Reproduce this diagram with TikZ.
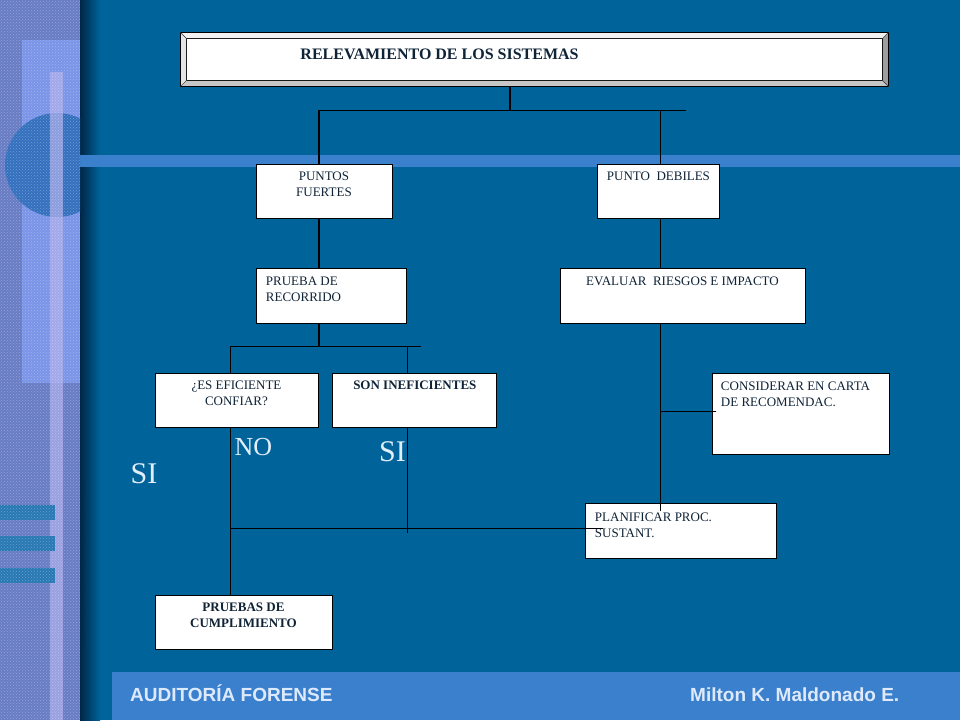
\documentclass[tikz,border=0pt]{standalone}
\usepackage{fontspec}
\setmainfont{Liberation Serif}
\setsansfont{Liberation Sans}
\usetikzlibrary{positioning,calc,patterns}

\definecolor{slidebg}{RGB}{0,99,153}
\definecolor{bandblue}{RGB}{58,128,204}
\definecolor{stripblue}{RGB}{104,124,196}
\definecolor{striplight}{RGB}{122,148,232}
\definecolor{circblue}{RGB}{52,112,190}
\definecolor{barlav}{RGB}{178,178,236}
\definecolor{tealbar}{RGB}{40,120,180}
\definecolor{shadowblue}{RGB}{0,38,72}
\definecolor{boxtext}{RGB}{15,35,55}
\definecolor{labelwhite}{RGB}{226,238,250}
\definecolor{foottext}{RGB}{222,234,252}

% text block inside a box: width, height, top gap, content
\newcommand{\boxtxt}[4]{\parbox[c][#2pt][t]{#1pt}{\vspace*{#3pt}#4}}
\newcommand{\lefttxt}[1]{\raggedright\leftskip=#1pt}

\begin{document}
\begin{tikzpicture}[x=1pt, y=-1pt,
    box/.style={draw=black, fill=white, line width=0.9pt, inner sep=0pt,
      text=boxtext, font=\fontsize{13}{16}\selectfont},
    conn/.style={draw=black, line width=1.1pt},
    yesno/.style={text=labelwhite, inner sep=0pt},
    foot/.style={text=foottext, inner sep=0pt,
      font=\sffamily\bfseries\fontsize{19}{22}\selectfont}]
    \useasboundingbox (0,0) rectangle (960,720);

    % slide background
    \fill[slidebg] (80,0) rectangle (960,720);
    \shade[left color=shadowblue, right color=slidebg] (80,0) rectangle (100,720);
    \fill[bandblue] (80,155) rectangle (960,167);
    \fill[bandblue] (112,672) rectangle (960,720);

    % textured strip on the left
    \begin{scope}
      \clip (0,0) rectangle (80,720);
      \fill[stripblue] (0,0) rectangle (80,720);
      \fill[striplight] (22,40) rectangle (80,383);
      \fill[circblue] (57,165) circle[radius=52pt];
      \fill[barlav, opacity=0.7] (50,72) rectangle (63,720);
      \foreach \y in {505,536,568}
        \fill[tealbar] (0,\y) rectangle (55,\y+15);
      \fill[pattern=crosshatch dots, pattern color=white, opacity=0.3] (0,0) rectangle (80,720);
    \end{scope}

    % title with bevel
    \node[box, anchor=north west] (title) at (186,38)
      {\boxtxt{696}{42}{10}{\bfseries\fontsize{16}{19}\selectfont\hspace*{114pt}RELEVAMIENTO DE LOS SISTEMAS}};
    \path (title.north west) ++(-6,-6) coordinate (tnw);
    \path (title.north east) ++(6,-6) coordinate (tne);
    \path (title.south east) ++(6,6) coordinate (tse);
    \path (title.south west) ++(-6,6) coordinate (tsw);
    \fill[black!5] (tnw) -- (tne) -- (title.north east) -- (title.north west) -- cycle;
    \fill[black!10] (tnw) -- (title.north west) -- (title.south west) -- (tsw) -- cycle;
    \fill[black!38] (tne) -- (tse) -- (title.south east) -- (title.north east) -- cycle;
    \fill[black!22] (tsw) -- (title.south west) -- (title.south east) -- (tse) -- cycle;
    \draw[line width=0.9pt] (tnw) rectangle (tse);
    \draw[black!80, thin] (tnw) -- (title.north west) (tne) -- (title.north east)
      (tse) -- (title.south east) (tsw) -- (title.south west);

    % boxes
    \node[box, anchor=north west] (pf) at (255.5,163.5)
      {\boxtxt{136}{54}{8}{\centering PUNTOS\\FUERTES}};
    \node[box, anchor=north west] (pd) at (597,163.5)
      {\boxtxt{122}{54}{8}{\centering PUNTO\ \ DEBILES}};
    \node[box, anchor=north west] (pr) at (255.5,267.5)
      {\boxtxt{150}{55}{9}{\lefttxt{10}PRUEBA DE\\RECORRIDO}};
    \node[box, anchor=north west] (ev) at (559.5,267.5)
      {\boxtxt{245}{55}{9}{\centering EVALUAR\ \ RIESGOS E IMPACTO}};
    \node[box, anchor=north west] (ef) at (154.5,372.5)
      {\boxtxt{163}{54}{8}{\centering ¿ES EFICIENTE\\CONFIAR?}};
    \node[box, right=14pt of ef] (son)
      {\boxtxt{164}{54}{8}{\centering\bfseries SON INEFICIENTES}};
    \node[box, anchor=north west] (ca) at (711.5,372.5)
      {\boxtxt{177}{81}{9}{\lefttxt{9}CONSIDERAR EN CARTA\\DE RECOMENDAC.}};
    \node[box, anchor=north west] (plan) at (584.5,502.5)
      {\boxtxt{191}{55}{10}{\lefttxt{10}PLANIFICAR PROC.\\SUSTANT.}};
    \node[box, anchor=north west] (pc) at (154.5,594.5)
      {\boxtxt{177}{54}{8}{\centering\bfseries PRUEBAS DE\\CUMPLIMIENTO}};

    % columns and junctions
    \coordinate (c1) at (319,0);
    \coordinate (c2) at (660.5,0);
    \coordinate (c3) at (230.5,0);
    \coordinate (c4) at (407.5,0);
    \coordinate (j1) at (510,110.5);
    \coordinate (j1r) at (686,110.5);
    \coordinate (j2) at (319,346.5);
    \coordinate (j2r) at (421,346.5);
    \coordinate (j3) at (660.5,411.5);
    \coordinate (j4) at (230.5,528.5);

    % connectors
    \draw[conn] (tsw -| j1) -- (j1);
    \draw[conn] (c1 |- pf.north) |- (j1r);
    \draw[conn] (c2 |- pd.north) -- (c2 |- j1);
    \draw[conn] (c1 |- pf.south) -- (c1 |- pr.north);
    \draw[conn] (c2 |- pd.south) -- (c2 |- ev.north);
    \draw[conn] (c1 |- pr.south) -- (j2);
    \draw[conn] (c3 |- ef.north) |- (j2r);
    \draw[conn] (c4 |- son.north) -- (c4 |- j2);
    \draw[conn] (c2 |- ev.south) -- ($(c2 |- plan.north)+(0,8)$);
    \draw[conn] (j3) -- ($(ca.west |- j3)+(4,0)$);
    \draw[conn] (c3 |- ef.south) -- (c3 |- pc.north);
    \draw[conn] (c4 |- son.south) -- ($(c4 |- j4)+(0,4)$);
    \draw[conn] (j4) -- ($(plan.west |- j4)+(18,0)$);

    % branch labels
    \node[yesno, font=\fontsize{26}{30}\selectfont] (no) at (253.5,447) {NO};
    \node[yesno, font=\fontsize{30}{34}\selectfont] (sia) at (392.5,452) {SI};
    \node[yesno, font=\fontsize{30}{34}\selectfont] (sib) at (144,473.5) {SI};

    % footer
    \node[foot, anchor=base west] (aud) at (130,701) {AUDITORÍA FORENSE};
    \node[foot, anchor=base west] (autor) at (690,701) {Milton K. Maldonado E.};
\end{tikzpicture}
\end{document}
